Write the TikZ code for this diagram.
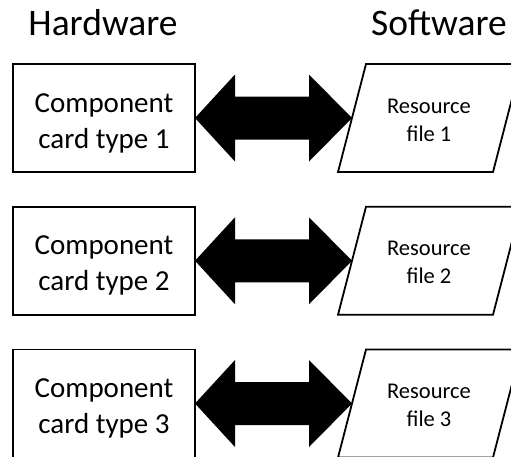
\documentclass[tikz,border=0pt]{standalone}
\usepackage{fontspec}
\setmainfont{Carlito}
\begin{document}
\begin{tikzpicture}[x=1pt,y=-1pt,
  card/.style={draw, line width=1.8pt, minimum width=182pt, minimum height=108pt,
    inner sep=0pt, outer sep=0pt},
  heading/.style={font=\fontsize{37.5}{40}\selectfont, anchor=base, inner sep=0pt},
  cardtext/.style={font=\fontsize{29}{36}\selectfont, align=center, inner sep=0pt, anchor=base},
  restext/.style={font=\fontsize{22.5}{28}\selectfont, align=center, inner sep=0pt, anchor=base},
  filebox/.style={draw, line width=1.8pt, line join=miter},
  link/.style={fill=black}]
\useasboundingbox (0,0) rectangle (511,456);
\node[heading] (hw) at (103,35) {Hardware};
\node[heading] (sw) at (439,35) {Software};
\foreach \i/\t in {1/64,2/206.75,3/349.5}{
  % hardware card
  \node[card] (card\i) at (104,\t+54) {};
  \node[cardtext] (cardlbl\i) at (104,\t+84) {Component\\card type \i};
  % resource file (parallelogram)
  \draw[filebox] (338,\t+108) -- (366,\t) -- (521,\t) -- (493,\t+108) -- cycle;
  \coordinate (file\i) at (352,\t+54);
  \node[restext] (reslbl\i) at (429,\t+77) {Resource\\file \i};
  % two-way link
  \fill[link] (card\i.east) -- ++(40,-43.5) -- ++(0,22) -- ++(74,0) -- ++(0,-22)
    -- (file\i) -- ++(-43,43.5) -- ++(0,-22) -- ++(-74,0) -- ++(0,22) -- cycle;
}
\end{tikzpicture}
\end{document}
